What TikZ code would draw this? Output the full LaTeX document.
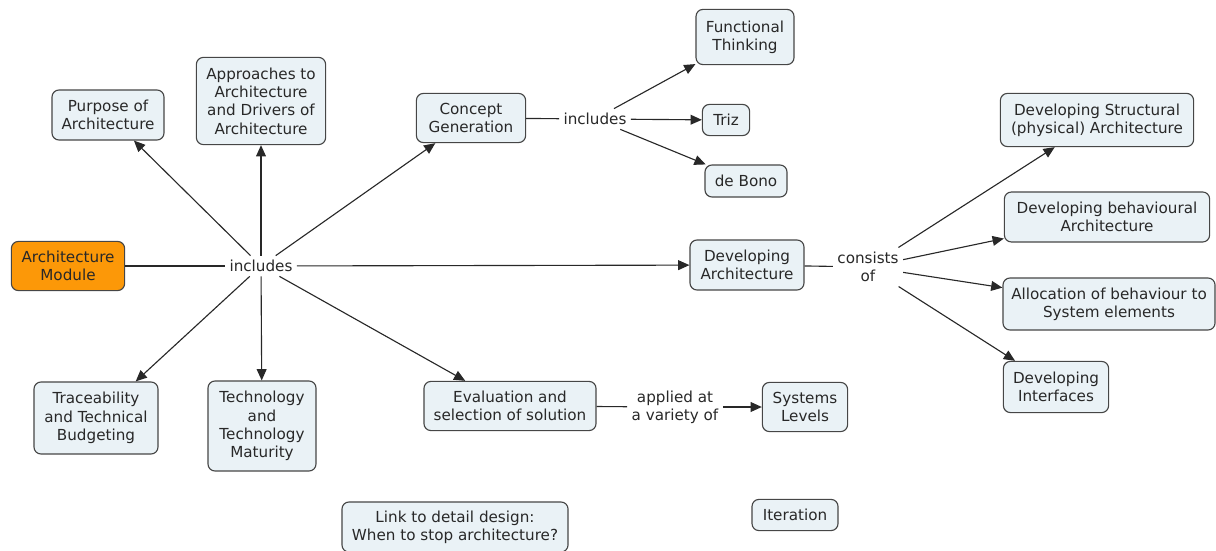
\documentclass[tikz,border=0pt]{standalone}
\usepackage{fontspec}
\setmainfont{DejaVu Sans}
\usetikzlibrary{arrows.meta}
\definecolor{boxfill}{RGB}{234,242,246}
\definecolor{boxline}{RGB}{70,70,70}
\definecolor{modfill}{RGB}{252,152,8}
\definecolor{txt}{RGB}{40,40,40}

\begin{document}
\begin{tikzpicture}[x=0.025cm,y=-0.025cm,
  font=\fontsize{10.8}{13}\selectfont, text=txt,
  concept/.style={draw=boxline, fill=boxfill, line width=0.8pt, rounded corners=5pt,
    align=center, inner sep=0pt},
  linkword/.style={align=center, inner sep=3pt},
  arr/.style={draw=txt, line width=0.8pt, -{Triangle[length=8pt,width=7pt]}},
  ln/.style={draw=txt, line width=0.8pt}]
\useasboundingbox (0,0) rectangle (1216,551);

%concepts
\node[concept, fill=modfill, minimum width=2.83cm, minimum height=1.23cm] (module) at (68,266) {Architecture\\Module};
\node[concept, minimum width=2.8cm, minimum height=1.25cm] (purpose) at (108,115) {Purpose of\\Architecture};
\node[concept, minimum width=3.23cm, minimum height=2.18cm] (approach) at (261,101) {Approaches to\\Architecture\\and Drivers of\\Architecture};
\node[concept, minimum width=2.73cm, minimum height=1.23cm] (concgen) at (471,118) {Concept\\Generation};
\node[concept, minimum width=2.45cm, minimum height=1.38cm] (functhink) at (745,37) {Functional\\Thinking};
\node[concept, minimum width=1.18cm, minimum height=0.78cm] (triz) at (726,120) {Triz};
\node[concept, minimum width=2.05cm, minimum height=0.8cm] (debono) at (746,181) {de Bono};
\node[concept, minimum width=2.85cm, minimum height=1.25cm] (devarch) at (747,265) {Developing\\Architecture};
\node[concept, minimum width=4.83cm, minimum height=1.33cm] (structural) at (1097,120) {Developing Structural\\(physical) Architecture};
\node[concept, minimum width=5.13cm, minimum height=1.25cm] (behav) at (1107,217) {Developing behavioural\\Architecture};
\node[concept, minimum width=5.3cm, minimum height=1.3cm] (alloc) at (1109,304) {Allocation of behaviour to\\System elements};
\node[concept, minimum width=2.63cm, minimum height=1.28cm] (interf) at (1056,387) {Developing\\Interfaces};
\node[concept, minimum width=3.1cm, minimum height=1.8cm] (trace) at (96,418) {Traceability\\and Technical\\Budgeting};
\node[concept, minimum width=2.7cm, minimum height=2.25cm] (techmat) at (262,426) {Technology\\and\\Technology\\Maturity};
\node[concept, minimum width=4.3cm, minimum height=1.23cm] (evalsel) at (510,406) {Evaluation and\\selection of solution};
\node[concept, minimum width=2.13cm, minimum height=1.23cm] (syslev) at (805,407) {Systems\\Levels};
\node[concept, minimum width=5.65cm, minimum height=1.25cm] (detail) at (455,527) {Link to detail design:\\When to stop architecture?};
\node[concept, minimum width=2.15cm, minimum height=0.78cm] (iter) at (795,515) {Iteration};

%linking words
\node[linkword] (inc) at (261,266) {includes};
\node[linkword] (inccg) at (595,119) {includes};
\node[linkword] (consist) at (868,267) {consists\\of};
\node[linkword] (applied) at (675,407) {applied at\\a variety of};

%connectors
\draw[ln] (module) -- (inc);
\foreach \t in {purpose,approach,concgen,devarch,trace,techmat,evalsel}
  \draw[arr] (inc) -- (\t);
\draw[ln] (concgen) -- (inccg);
\foreach \t in {functhink,triz,debono}
  \draw[arr] (inccg) -- (\t);
\draw[ln] (devarch) -- (consist);
\foreach \t in {structural,behav,alloc,interf}
  \draw[arr] (consist) -- (\t);
\draw[ln] (evalsel) -- (applied);
\draw[arr] (applied) -- (syslev);
\end{tikzpicture}
\end{document}
